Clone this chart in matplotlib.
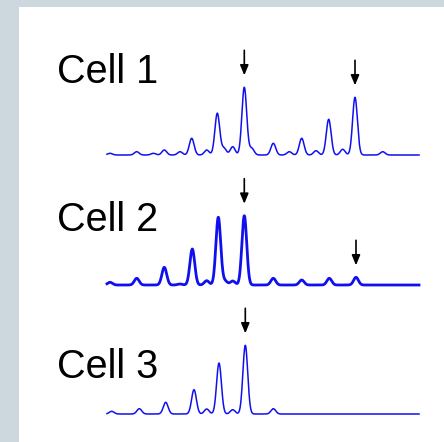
import numpy as np
import matplotlib.pyplot as plt

# peak positions (px along trace) and heights (px)
cell1_pos = [110.0, 136.7, 153.3, 164.3, 180.0, 191.7, 206.7, 217.3, 224.0, 232.7,
             244.3, 251.7, 273.3, 289.3, 301.7, 316.0, 328.7, 342.7, 355.0, 382.7]
cell1_h = [1.7, 3.3, 1.7, 5.0, 3.3, 16.7, 5.0, 41.7, 6.7, 8.3,
           67.7, 6.7, 11.7, 3.3, 16.7, 4.3, 35.7, 5.7, 57.7, 3.3]
cell1_marks = [244.3, 355.0]

cell2_pos = [110.0, 136.7, 164.3, 180.0, 192.3, 206.7, 218.3, 225.0, 232.7,
             244.3, 273.3, 301.7, 329.3, 356.0]
cell2_h = [2.7, 6.7, 17.7, 1.0, 36.0, 4.3, 67.7, 4.0, 4.0,
           69.3, 6.7, 5.0, 6.7, 7.7]
cell2_marks = [244.3, 356.0]

cell3_pos = [111.7, 139.3, 165.7, 194.0, 206.7, 219.0, 232.7, 245.3, 273.3]
cell3_h = [2.7, 5.3, 11.7, 24.3, 5.0, 51.0, 4.3, 68.7, 5.3]
cell3_marks = [245.3]

labels = ['Cell 1', 'Cell 2', 'Cell 3']
label_y = [83, 231, 378]

cells = [(cell1_pos, cell1_h, cell1_marks, 155, 1.1),
         (cell2_pos, cell2_h, cell2_marks, 285, 2.0),
         (cell3_pos, cell3_h, cell3_marks, 414, 1.1)]

fig = plt.figure(figsize=(4.44, 4.42), dpi=100, facecolor='#cdd8de')
ax = fig.add_axes([19/444, 0, 425/444, 435/442])
ax.set_facecolor('white')
ax.set_xlim(19, 444)
ax.set_ylim(442, 7)
ax.set_xticks([])
ax.set_yticks([])
for s in ax.spines.values():
    s.set_visible(False)

x = np.linspace(107, 419, 1200)
sig = 2.4
for (pos, h, marks, base, lw), lab, ly in zip(cells, labels, label_y):
    y = np.zeros_like(x)
    for p, hh in zip(pos, h):
        y += hh * np.exp(-(x - p)**2 / (2 * sig**2))
    ax.plot(x, base - y, color='#1010ee', lw=lw, solid_joinstyle='round')
    for m in marks:
        top = h[pos.index(m)]
        tip = base - top - 12
        ax.annotate('', xy=(m, tip), xytext=(m, tip - 25),
                    arrowprops=dict(arrowstyle='-|>,head_length=0.6,head_width=0.25',
                                    color='black', lw=1.2, shrinkA=0, shrinkB=0))
    ax.text(57, ly, lab, fontsize=28.5, family='Liberation Sans',
            ha='left', va='baseline', color='black')

fig.savefig('out.png', dpi=100, facecolor=fig.get_facecolor())
